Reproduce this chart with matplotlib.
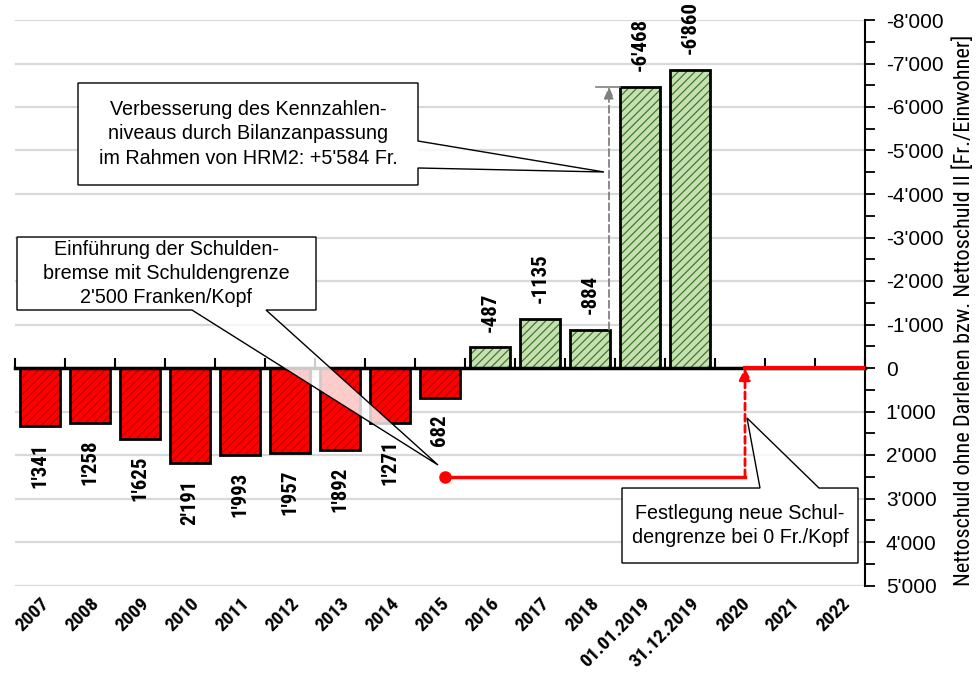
import matplotlib
matplotlib.use("Agg")
import matplotlib.pyplot as plt
import matplotlib.transforms as mtransforms
from matplotlib import font_manager
from matplotlib.font_manager import FontProperties
from matplotlib.patches import Polygon, Rectangle
from matplotlib.ticker import FuncFormatter, MultipleLocator
import numpy as np
import os

# ---------------- data ----------------
categories = ["2007", "2008", "2009", "2010", "2011", "2012", "2013", "2014", "2015",
              "2016", "2017", "2018", "01.01.2019", "31.12.2019", "2020", "2021", "2022"]
debt_values = [1341, 1258, 1625, 2191, 1993, 1957, 1892, 1271, 682,
               -487, -1135, -884, -6468, -6860, None, None, None]
value_labels = ["1'341", "1'258", "1'625", "2'191", "1'993", "1'957", "1'892", "1'271", "682",
                "-487", "-1135", "-884", "-6'468", "-6'860", "", "", ""]
old_limit_x = [8.1, 14.1]          # Schuldengrenze 2'500 Fr./Kopf
old_limit_y = [2500, 2500]
new_limit_x = [14.1, 16.5]         # neue Schuldengrenze 0 Fr./Kopf
new_limit_y = [0, 0]
hrm2_from = -884
hrm2_to = -6468
y_ticks = list(range(-8000, 5001, 1000))

# ---------------- fonts ----------------
def has_font(name):
    try:
        font_manager.findfont(name, fallback_to_default=False)
        return True
    except Exception:
        return False

REG = "Liberation Sans" if has_font("Liberation Sans") else "DejaVu Sans"


def find_narrow(bold):
    prefs = ["liberationsansnarrow", "arialnarrow", "robotocondensed", "notosans-condensed",
             "notosanscondensed", "opensanscondensed", "opensans_condensed", "dejavusanscondensed"]
    best = None
    best_rank = 99
    for f in font_manager.fontManager.ttflist:
        fn = os.path.basename(f.fname).lower().replace(" ", "")
        if "italic" in fn or "oblique" in fn:
            continue
        isbold = ("bold" in fn) and ("semibold" not in fn) and ("extrabold" not in fn)
        if isbold != bold:
            continue
        if not bold and any(w in fn for w in ["light", "thin", "medium", "black", "semi", "extra"]):
            continue
        for r, p in enumerate(prefs):
            if fn.startswith(p) and r < best_rank:
                best, best_rank = f.fname, r
    return best


NB_FILE = find_narrow(True)
NR_FILE = find_narrow(False)


def fp_bold(size):
    if NB_FILE:
        return FontProperties(fname=NB_FILE, size=size)
    return FontProperties(family=REG, weight="bold", size=size * 0.85)


def fp_narrow(size):
    if NR_FILE:
        return FontProperties(fname=NR_FILE, size=size)
    return FontProperties(family=REG, size=size * 0.85)


plt.rcParams["font.family"] = [REG, "DejaVu Sans"]
plt.rcParams["hatch.linewidth"] = 0.9

fig = plt.figure(figsize=(9.8, 6.76), dpi=100)
ax = fig.add_axes([15 / 980, 1 - 585.5 / 676, 850 / 980, 565.5 / 676])

x = np.arange(len(categories))
vals = np.array([np.nan if v is None else v for v in debt_values], dtype=float)
pos_mask = vals > 0
neg_mask = vals < 0

# grid
for t in y_ticks:
    ax.axhline(t, color="#d9d9d9", lw=1.6, zorder=0)

# bars: hatch layer then outline layer
ax.bar(x[pos_mask], vals[pos_mask], width=0.8, color="#ff0000", edgecolor="#c00000",
       hatch="////", linewidth=0, zorder=2)
ax.bar(x[pos_mask], vals[pos_mask], width=0.8, fill=False, edgecolor="black",
       linewidth=2, zorder=3)
ax.bar(x[neg_mask], vals[neg_mask], width=0.8, color="#c6e0b4", edgecolor="#3f7a28",
       hatch="////", linewidth=0, zorder=2)
ax.bar(x[neg_mask], vals[neg_mask], width=0.8, fill=False, edgecolor="black",
       linewidth=2, zorder=3)

# value labels
for xi, v, lab in zip(x, vals, value_labels):
    if np.isnan(v) or lab == "":
        continue
    if v > 0:
        ax.annotate(lab, (xi, v), xytext=(0, -12), textcoords="offset points",
                    rotation=90, ha="center", va="top", fontproperties=fp_bold(15), zorder=6)
    else:
        ax.annotate(lab, (xi, v), xytext=(0, 11), textcoords="offset points",
                    rotation=90, ha="center", va="bottom", fontproperties=fp_bold(15), zorder=6)

# debt limit lines
ax.plot(old_limit_x, old_limit_y, color="#ff0000", lw=2.5, zorder=4)
ax.plot(old_limit_x[0], old_limit_y[0], "o", color="#ff0000", ms=8, zorder=5)
ax.plot(new_limit_x, new_limit_y, color="#ff0000", lw=3, zorder=4)
ax.annotate("", xy=(old_limit_x[1], new_limit_y[0]), xytext=(old_limit_x[1], old_limit_y[1]),
            arrowprops=dict(arrowstyle="-|>,head_length=0.7,head_width=0.35", color="#ff0000",
                            lw=2, linestyle=(0, (2.5, 1.5)), shrinkA=0, shrinkB=0), zorder=5)

# HRM2 arrow (grey)
arrow_x = 11.38
ax.annotate("", xy=(arrow_x, hrm2_to), xytext=(arrow_x, hrm2_from),
            arrowprops=dict(arrowstyle="-|>,head_length=0.7,head_width=0.3", color="#808080",
                            lw=1.3, linestyle=(0, (4, 2)), shrinkA=0, shrinkB=0), zorder=5)
ax.plot([11.12, 11.6], [hrm2_to, hrm2_to], color="#808080", lw=1.2, zorder=5)


# callouts (shape coordinates in data units)
def callout(poly, box, text, center, fs=14.2):
    rx0, ry0, rx1, ry1 = box
    ax.add_patch(Rectangle((rx0, ry0), rx1 - rx0, ry1 - ry0, facecolor="white",
                           edgecolor="none", zorder=7))
    ax.add_patch(Polygon(poly, closed=True, facecolor=(1, 1, 1, 0.8), edgecolor="black",
                         lw=1.0, zorder=7))
    ax.text(center[0], center[1], text, ha="center", va="center", fontsize=fs,
            linespacing=1.35, zorder=8)


# box 1
b1 = (0.76, -6552, 7.56, -4207)
callout([(b1[0], b1[1]), (b1[2], b1[1]), (b1[2], -5218), (11.28, -4506), (b1[2], -4598),
         (b1[2], b1[3]), (b1[0], b1[3])], b1,
        "Verbesserung des Kennzahlen-\nniveaus durch Bilanzanpassung\nim Rahmen von HRM2: +5'584 Fr.",
        ((b1[0] + b1[2]) / 2, (b1[1] + b1[3]) / 2))
# box 2
b2 = (-0.46, -3011, 5.52, -1333)
callout([(b2[0], b2[1]), (b2[2], b2[1]), (b2[2], b2[3]), (4.52, b2[3]), (7.96, 2230),
         (3.04, b2[3]), (b2[0], b2[3])], b2,
        "Einführung der Schulden-\nbremse mit Schuldengrenze\n2'500 Franken/Kopf",
        ((b2[0] + b2[2]) / 2, (b2[1] + b2[3]) / 2))
# box 3
b3 = (11.64, 2759, 16.36, 4483)
callout([(b3[0], b3[1]), (14.4, b3[1]), (14.14, 1149), (15.58, b3[1]), (b3[2], b3[1]),
         (b3[2], b3[3]), (b3[0], b3[3])], b3,
        "Festlegung neue Schul-\ndengrenze bei 0 Fr./Kopf",
        ((b3[0] + b3[2]) / 2, (b3[1] + b3[3]) / 2))

# axes
ax.set_xlim(-0.5, len(categories) - 0.5)
ax.set_ylim(5000, -8000)
for s in ["top", "left", "bottom"]:
    ax.spines[s].set_visible(False)
ax.spines["right"].set_linewidth(1.5)
ax.yaxis.tick_right()
ax.set_yticks(y_ticks)
ax.yaxis.set_minor_locator(MultipleLocator(500))
ax.yaxis.set_major_formatter(FuncFormatter(lambda v, p: "0" if v == 0 else f"{v:,.0f}".replace(",", "'")))
ax.tick_params(axis="y", which="both", direction="out", length=7, width=1.3, pad=8, labelsize=15)
ax.yaxis.set_label_position("right")
ax.set_ylabel("Nettoschuld ohne Darlehen bzw. Nettoschuld II [Fr./Einwohner]",
              fontproperties=fp_narrow(16))
ax.yaxis.set_label_coords(1.104, 0.487)

ax.set_xticks(x)
ax.set_xticklabels(categories, rotation=45, ha="right", va="center", rotation_mode="anchor",
                   fontproperties=fp_bold(14))
ax.tick_params(axis="x", length=0, pad=11)
offset = mtransforms.ScaledTranslation(7 / 100, 0, fig.dpi_scale_trans)
for lab in ax.get_xticklabels():
    lab.set_transform(lab.get_transform() + offset)

# zero axis with boundary ticks
zero_frac = 5000 / 13000
sec = ax.secondary_xaxis(zero_frac)
sec.set_xticks(np.arange(len(categories) + 1) - 0.5)
sec.set_xticklabels([])
sec.tick_params(axis="x", direction="in", length=7, width=1.5)
sec.spines["bottom"].set_linewidth(2.5)
sec.set_zorder(3.5)

fig.savefig("out.png", dpi=100)
